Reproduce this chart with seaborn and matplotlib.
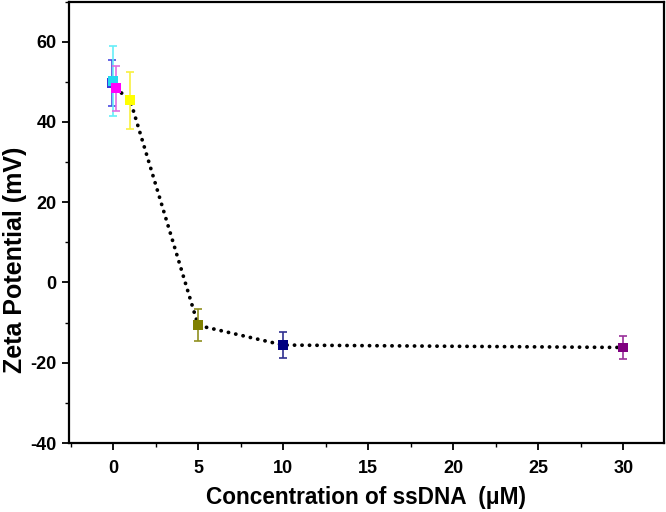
import matplotlib
matplotlib.use('Agg')
import matplotlib.pyplot as plt
import seaborn as sns
import pandas as pd
from matplotlib.ticker import MultipleLocator

# data
conc = [-0.1, 0.0, 0.15, 1.0, 5.0, 10.0, 30.0]
zeta = [49.7, 50.2, 48.4, 45.4, -10.7, -15.6, -16.2]
err = [5.7, 8.8, 5.6, 7.1, 4.0, 3.2, 2.9]
labels = ['a', 'b', 'c', 'd', 'e', 'f', 'g']
colors = ['#3a3ad8', '#22d8f0', '#ff00ff', '#ffff00', '#808000', '#000080', '#800080']
bar_colors = ['#4a4ae0', '#66eef8', '#e070e0', '#f8f040', '#909020', '#303090', '#9a309a']

df = pd.DataFrame({'conc': conc, 'zeta': zeta, 'err': err, 'label': labels})

sns.set_style('ticks', {'axes.edgecolor': 'black', 'text.color': 'black',
                        'axes.labelcolor': 'black', 'xtick.color': 'black',
                        'ytick.color': 'black'})
plt.rcParams['font.family'] = ['Liberation Sans', 'DejaVu Sans']
plt.rcParams['font.weight'] = 'bold'
plt.rcParams['axes.unicode_minus'] = False

fig = plt.figure(figsize=(6.66, 5.12), dpi=100)
ax = fig.add_axes([69 / 666, 1 - 443 / 512, (664 - 69) / 666, (443 - 1.5) / 512])

# dotted connecting line (skip the first two overlapping points)
line_df = df.iloc[2:]
sns.lineplot(data=line_df, x='conc', y='zeta', ax=ax, color='black', lw=2.7,
             linestyle=(0, (0.05, 1.95)), sort=False, zorder=2)
ax.lines[-1].set_dash_capstyle('round')

for i in range(len(df)):
    ax.errorbar(conc[i], zeta[i], yerr=err[i], fmt='none', ecolor=bar_colors[i],
                elinewidth=1.2, capsize=3, capthick=1.2, zorder=3)

sns.scatterplot(data=df, x='conc', y='zeta', hue='label', palette=colors, marker='s',
                s=50, edgecolor='none', legend=False, ax=ax, zorder=4)

ax.set_xlim(-2.6, 32.4)
ax.set_ylim(-40, 70)
ax.xaxis.set_major_locator(MultipleLocator(5))
ax.xaxis.set_minor_locator(MultipleLocator(2.5))
ax.set_yticks([-40, -20, 0, 20, 40, 60])
ax.yaxis.set_minor_locator(MultipleLocator(10))
ax.tick_params(which='major', direction='out', length=5, width=1.3, labelsize=13, pad=4)
ax.tick_params(which='minor', direction='out', length=3, width=1.0)
ax.tick_params(axis='x', pad=7)
for s in ax.spines.values():
    s.set_linewidth(1.6)
    s.set_visible(True)
for lab in ax.get_xticklabels() + ax.get_yticklabels():
    lab.set_fontweight('bold')

ax.set_xlabel('Concentration of ssDNA  (\u03bcM)', fontsize=16.3, fontweight='bold', labelpad=7)
ax.set_ylabel('Zeta Potential (mV)', fontsize=18, fontweight='bold')
ax.yaxis.set_label_coords((27 - 69) / 595, 0.416)

fig.savefig('out.png', dpi=100)
